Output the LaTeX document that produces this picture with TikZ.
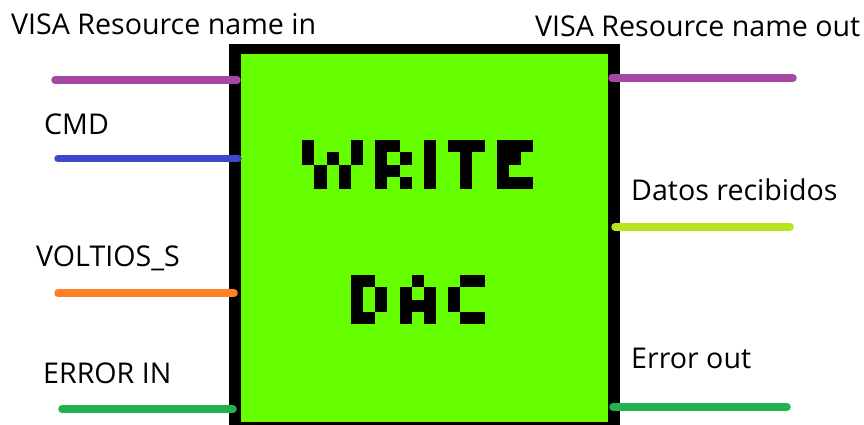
\documentclass[tikz,border=0pt]{standalone}
\usepackage{fontspec}
\setmainfont{Open Sans}
\definecolor{boxgreen}{RGB}{102,255,0}
\definecolor{cpurple}{HTML}{A349A4}
\definecolor{cblue}{HTML}{3F48CC}
\definecolor{corange}{HTML}{FF7F27}
\definecolor{cgreen}{HTML}{22B14C}
\definecolor{clime}{HTML}{B5E61D}
\tikzset{
  wire/.style={line width=7.5pt, line cap=round},
  lbl/.style={anchor=base west, inner sep=0pt, font=\fontsize{28.6}{32}\selectfont, text=black},
  pix/.style={fill=black},
}
\newcommand{\pixu}{12.15}
\begin{document}
\begin{tikzpicture}[x=1pt,y=-1pt]
\path[use as bounding box, clip] (0,0) rectangle (864,425);
\fill[white] (0,0) rectangle (864,425);
% block
\node (box) [fill=black, inner sep=0pt, minimum width=391pt, minimum height=390pt, anchor=north west] at (229,44) {};
\node (core) [fill=boxgreen, inner sep=0pt, minimum width=367pt, minimum height=368pt, anchor=north west] at (241,54) {};
% pixel title
\begin{scope}[shift={(302.3,140.3)}]
\foreach \c/\r in {0/0,0/1,1/2,1/3,2/1,3/2,3/3,4/0,4/1,
  6/0,6/1,6/2,6/3,7/0,7/2,8/1,8/3,
  10/0,10/1,10/2,10/3,
  12/0,13/0,14/0,13/1,13/2,13/3,
  16/0,16/1,16/2,16/3,17/0,18/0,17/1,17/3,18/3}
  \fill[pix] (\c*\pixu,\r*\pixu) rectangle ++(\pixu,\pixu);
\end{scope}
\begin{scope}[shift={(302.3,275.3)}]
\foreach \c/\r in {4/0,4/1,4/2,4/3,5/0,5/3,6/1,6/2,
  9/0,8/1,8/2,8/3,10/1,10/2,10/3,9/2,
  13/0,14/0,12/1,12/2,13/3,14/3}
  \fill[pix] (\c*\pixu,\r*\pixu) rectangle ++(\pixu,\pixu);
\end{scope}
% wire ends
\coordinate (visaInE) at (55,80);   \coordinate (visaInB) at (237,80);
\coordinate (cmdE) at (58,158.5);   \coordinate (cmdB) at (238,158.5);
\coordinate (voltE) at (58,293);    \coordinate (voltB) at (234,293);
\coordinate (errInE) at (62,409);   \coordinate (errInB) at (233,409);
\coordinate (visaOutB) at (612,78); \coordinate (visaOutE) at (793,78);
\coordinate (datosB) at (615,227);  \coordinate (datosE) at (790,227);
\coordinate (errOutB) at (613,407); \coordinate (errOutE) at (787,407);
\draw[wire, cpurple] (visaInE) -- (visaInB);
\draw[wire, cblue] (cmdE) -- (cmdB);
\draw[wire, corange] (voltE) -- (voltB);
\draw[wire, cgreen] (errInE) -- (errInB);
\draw[wire, cpurple] (visaOutB) -- (visaOutE);
\draw[wire, clime] (datosB) -- (datosE);
\draw[wire, cgreen] (errOutB) -- (errOutE);
% labels
\node[lbl] (l1) at (11,34.5) {VISA Resource name in};
\node[lbl] (l2) at (44,135) {CMD};
\node[lbl] (l3) at (36,266) {VOLTIOS\_S};
\node[lbl] (l4) at (43,383) {ERROR IN};
\node[lbl] (r1) at (535,37) {VISA Resource name out};
\node[lbl] (r2) at (631,200) {Datos recibidos};
\node[lbl] (r3) at (631,368) {Error out};
\end{tikzpicture}
\end{document}
